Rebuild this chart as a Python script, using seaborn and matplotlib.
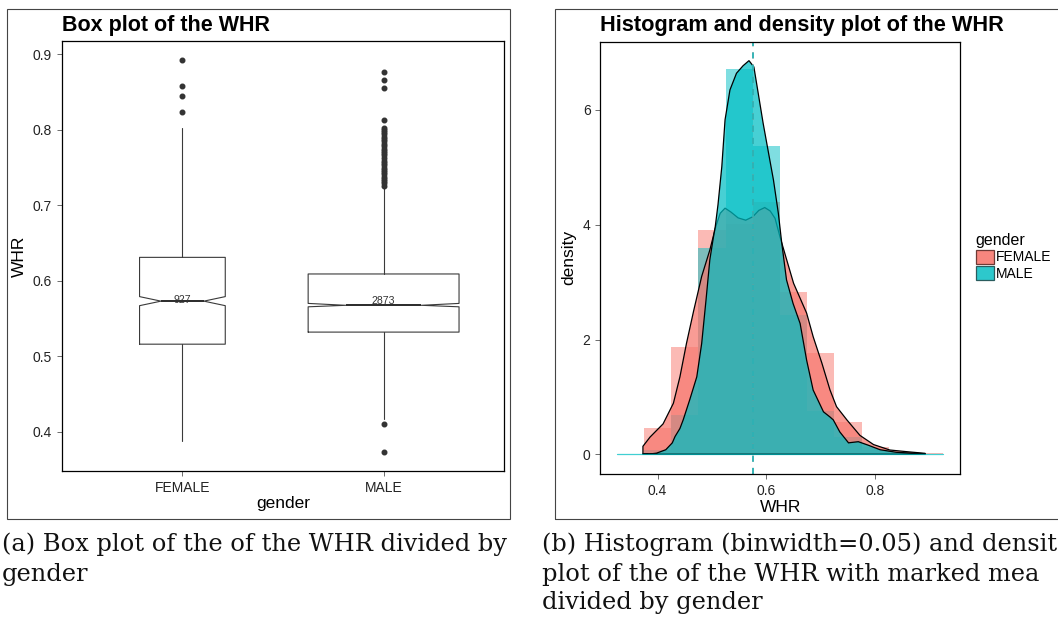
import numpy as np
import pandas as pd
import matplotlib
matplotlib.use("Agg")
import matplotlib.pyplot as plt
from matplotlib.patches import Rectangle, Patch
import seaborn as sns

# ---------------- data ----------------
genders = ["FEMALE", "MALE"]
counts = [927, 2873]
box_q1 = [0.516, 0.532]
box_med = [0.573, 0.5675]
box_q3 = [0.631, 0.609]
whisk_lo = [0.388, 0.417]
whisk_hi = [0.803, 0.724]
notch_lo = [0.567, 0.5655]
notch_hi = [0.579, 0.5700]
count_label_y = [0.574, 0.573]
female_outliers = [0.823, 0.845, 0.858, 0.892]
male_outliers = [0.373, 0.410,
                 0.726, 0.729, 0.732, 0.735, 0.738, 0.741, 0.744, 0.747,
                 0.750, 0.753, 0.756, 0.759, 0.763, 0.766, 0.769, 0.772,
                 0.775, 0.778, 0.781, 0.785, 0.788, 0.791, 0.794, 0.797,
                 0.800, 0.803, 0.813, 0.855, 0.866, 0.877]

bin_centers = [0.35, 0.40, 0.45, 0.50, 0.55, 0.60, 0.65, 0.70, 0.75, 0.80, 0.85, 0.90]
female_hist = [0.0, 0.464, 1.87, 3.91, 4.01, 4.40, 2.83, 1.765, 0.563, 0.122, 0.04, 0.022]
male_hist = [0.007, 0.07, 0.685, 3.59, 6.71, 5.37, 2.43, 0.755, 0.296, 0.07, 0.02, 0.007]

female_dens_x = [0.373, 0.386, 0.410, 0.429, 0.441, 0.453, 0.466, 0.481, 0.496, 0.507,
                 0.515, 0.524, 0.535, 0.548, 0.562, 0.575, 0.586, 0.597, 0.607, 0.616,
                 0.625, 0.637, 0.650, 0.662, 0.674, 0.686, 0.702, 0.717, 0.729, 0.748,
                 0.772, 0.797, 0.827, 0.858, 0.892]
female_dens_y = [0.14, 0.30, 0.53, 0.89, 1.35, 1.93, 2.49, 3.10, 3.56, 3.97,
                 4.20, 4.29, 4.22, 4.12, 4.08, 4.14, 4.25, 4.30, 4.24, 4.11,
                 3.79, 3.40, 2.98, 2.72, 2.46, 2.05, 1.59, 1.12, 0.83, 0.60,
                 0.33, 0.17, 0.075, 0.046, 0.017]
male_dens_x = [0.373, 0.385, 0.398, 0.415, 0.427, 0.432, 0.441, 0.447, 0.459, 0.472,
               0.481, 0.489, 0.496, 0.502, 0.506, 0.511, 0.518, 0.524, 0.533, 0.545,
               0.557, 0.568, 0.577, 0.585, 0.594, 0.603, 0.613, 0.622, 0.628, 0.637,
               0.649, 0.662, 0.674, 0.686, 0.705, 0.717, 0.723, 0.735, 0.751, 0.769,
               0.787, 0.809, 0.839, 0.892]
male_dens_y = [0.01, 0.005, 0.02, 0.08, 0.20, 0.31, 0.45, 0.60, 0.95, 1.35,
               1.93, 2.69, 3.39, 3.75, 3.97, 4.35, 5.01, 5.83, 6.35, 6.64,
               6.77, 6.86, 6.75, 6.29, 5.77, 5.30, 4.78, 4.20, 3.70, 3.04,
               2.63, 2.28, 1.64, 1.12, 0.74, 0.65, 0.60, 0.39, 0.20, 0.22,
               0.16, 0.08, 0.035, 0.01]
female_mean = 0.5757
male_mean = 0.5747
bin_width = 0.05

# ---------------- style ----------------
sns.set_theme(style="white")
plt.rcParams['font.family'] = ['Liberation Sans', 'DejaVu Sans']
FEM = "#F8766D"
MAL = "#00BFC4"
W, H = 1058, 621
fig = plt.figure(figsize=(W / 100, H / 100), dpi=100)
fig.patch.set_facecolor("white")

def style_axes(ax):
    for s in ax.spines.values():
        s.set_visible(True)
        s.set_color("black")
        s.set_linewidth(0.9)
    ax.tick_params(axis="both", which="both", direction="out", length=3.5, width=0.6,
                   color="#555555", labelcolor="#222222", labelsize=10,
                   bottom=True, left=True, top=False, right=False, pad=3.5)
    ax.grid(False)
    ax.set_facecolor("white")

# ---------------- left: box plot ----------------
ax1 = fig.add_axes([61.7 / W, 1 - 471 / H, (504.3 - 61.7) / W, (471 - 40.7) / H])
style_axes(ax1)
stats = []
for i, g in enumerate(genders):
    fl = female_outliers if i == 0 else male_outliers
    stats.append(dict(label=g, med=box_med[i], q1=box_q1[i], q3=box_q3[i],
                      whislo=whisk_lo[i], whishi=whisk_hi[i], fliers=fl,
                      cilo=notch_lo[i], cihi=notch_hi[i]))
widths = [0.75 * np.sqrt(n / max(counts)) for n in counts]
ax1.bxp(stats, positions=[0, 1], widths=widths, shownotches=True, showcaps=False,
        boxprops=dict(color="#3a3a3a", linewidth=0.8),
        whiskerprops=dict(color="#3a3a3a", linewidth=0.8),
        medianprops=dict(color="#2a2a2a", linewidth=1.4),
        flierprops=dict(marker="o", markerfacecolor="#333333", markeredgecolor="#333333",
                        markersize=3.3, linestyle="none"))
for i, n in enumerate(counts):
    ax1.text(i, count_label_y[i], str(n), ha="center", va="center", fontsize=7.6, color="#333333")
ax1.set_xlim(-0.6, 1.6)
ax1.set_ylim(0.348, 0.918)
ax1.set_xticks([0, 1])
ax1.set_xticklabels(genders)
ax1.set_yticks([0.4, 0.5, 0.6, 0.7, 0.8, 0.9])
ax1.set_yticklabels(["0.4", "0.5", "0.6", "0.7", "0.8", "0.9"])
ax1.set_xlabel("gender", fontsize=12.5, labelpad=1, color="black")
ax1.set_ylabel("WHR", fontsize=12.5, labelpad=4.5, color="black")
ax1.set_title("Box plot of the WHR", loc="left", fontweight="bold", fontsize=15.5, pad=7,
              color="black")

# ---------------- right: histogram + density ----------------
ax2 = fig.add_axes([600.3 / W, 1 - 474 / H, (960 - 600.3) / W, (474 - 41.7) / H])
style_axes(ax2)
centers = np.array(bin_centers)
edges = [float(e) for e in np.append(centers - bin_width / 2, centers[-1] + bin_width / 2)]
hist_df = pd.DataFrame({"WHR": bin_centers, "female": female_hist, "male": male_hist})
sns.histplot(data=hist_df, x="WHR", weights="female", bins=edges, color=FEM, alpha=0.5,
             linewidth=0, ax=ax2)
sns.histplot(data=hist_df, x="WHR", weights="male", bins=edges, color=MAL, alpha=0.5,
             linewidth=0, ax=ax2)
ax2.plot([edges[0], edges[-1]], [0, 0], color=MAL, lw=0.9, alpha=0.75)
for xs, ys, c in [(female_dens_x, female_dens_y, FEM), (male_dens_x, male_dens_y, MAL)]:
    px = np.r_[xs, xs[-1], xs[0]]
    py = np.r_[ys, 0, 0]
    ax2.fill(px, py, facecolor=c, alpha=0.72, edgecolor="none")
    ax2.fill(px, py, facecolor="none", edgecolor="black", lw=0.9)
ax2.axvline(female_mean, color=FEM, ls=(0, (4, 4)), lw=1.1)
ax2.axvline(male_mean, color=MAL, ls=(0, (4, 4)), lw=1.1)
ax2.set_xlim(0.2946, 0.956)
ax2.set_ylim(-0.343, 7.19)
ax2.set_xticks([0.4, 0.6, 0.8])
ax2.set_xticklabels(["0.4", "0.6", "0.8"])
ax2.set_yticks([0, 2, 4, 6])
ax2.set_yticklabels(["0", "2", "4", "6"])
ax2.set_xlabel("WHR", fontsize=12.5, labelpad=2, color="black")
ax2.set_ylabel("density", fontsize=12.5, labelpad=4.5, color="black")
ax2.set_title("Histogram and density plot of the WHR", loc="left", fontweight="bold",
              fontsize=15.7, pad=8, color="black")

handles = [Patch(facecolor="#F8867E", edgecolor="#6e3a36", lw=0.9),
           Patch(facecolor="#2DC8CC", edgecolor="#2a5c5e", lw=0.9)]
leg = fig.legend(handles, genders, title="gender", loc="upper left",
                 bbox_to_anchor=(975.5 / W, 1 - 233 / H), frameon=False, fontsize=10,
                 title_fontsize=11.5, handlelength=1.3, handleheight=1.2,
                 handletextpad=0.2, labelspacing=0.12, borderpad=0, borderaxespad=0,
                 alignment="left")
for t in leg.get_texts():
    t.set_color("black")
leg.get_title().set_color("black")

# ---------------- sub-figure frames ----------------
fig.add_artist(Rectangle((7.3 / W, 1 - 519 / H), (510 - 7.3) / W, (519 - 9.3) / H,
                         transform=fig.transFigure, fill=False, edgecolor="#444444", lw=0.8))
fig.add_artist(Rectangle((555 / W, 1 - 519 / H), 0.6, (519 - 9.3) / H,
                         transform=fig.transFigure, fill=False, edgecolor="#444444", lw=0.8))

# ---------------- captions ----------------
cap_lines = [
    (2.0, 551.5, "(a) Box plot of the of the WHR divided by"),
    (2.0, 580.5, "gender"),
    (541.5, 551.5, "(b) Histogram (binwidth=0.05) and densit"),
    (541.5, 580.5, "plot of the of the WHR with marked mea"),
    (541.5, 609.5, "divided by gender"),
]
cap_texts = [fig.text(x / W, 1 - y / H, s, fontsize=14, family=["DejaVu Serif"],
                      color="#111111", ha="left", va="baseline") for x, y, s in cap_lines]
renderer = fig.canvas.get_renderer()
wid = cap_texts[0].get_window_extent(renderer).width
fs = 14 * 507.0 / wid
for t in cap_texts:
    t.set_fontsize(fs)

fig.savefig("out.png", dpi=100, facecolor="white")
